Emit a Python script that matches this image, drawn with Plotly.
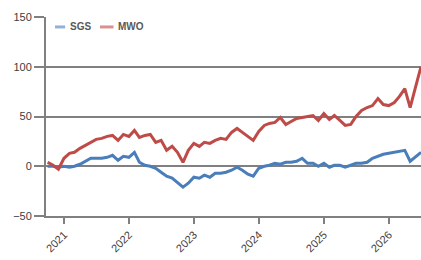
import pandas as pd
import plotly.graph_objects as go

dates = pd.date_range("2020-09-30", periods=70, freq="ME")

sgs = [0, 0, -1, 0, -1, 0, 2, 5, 8, 8,
       8, 9, 11, 6, 10, 9, 14, 4, 1, 0,
       -2, -6, -10, -12, -16, -21, -17, -11, -12, -9,
       -11, -7, -7, -6, -4, -1, -4, -8, -10, -2,
       0, 1, 3, 2, 4, 4, 5, 8, 3, 3,
       0, 3, -1, 1, 1, -1, 1, 3, 3, 4,
       8, 10, 12, 13, 14, 15, 16, 5, 10, 14]

mwo = [4, 1, -3, 8, 13, 14, 18, 21, 24, 27,
       28, 30, 31, 26, 32, 30, 36, 29, 31, 32,
       24, 26, 16, 20, 14, 4, 16, 23, 20, 24,
       23, 26, 28, 27, 34, 38, 34, 30, 26, 35,
       41, 43, 44, 49, 42, 45, 48, 49, 50, 51,
       46, 53, 47, 51, 46, 41, 42, 50, 56, 59,
       61, 68, 62, 61, 64, 70, 78, 59, 80, 100]

series_names = ["SGS", "MWO"]
series_colors = ["#4a7ebb", "#be4b48"]

year_ticks = ["2021-01-01", "2022-01-01", "2023-01-01", "2024-01-01", "2025-01-01", "2026-01-01"]
year_labels = ["2021", "2022", "2023", "2024", "2025", "2026"]

fig = go.Figure()
for name, vals, col in zip(series_names, [sgs, mwo], series_colors):
    fig.add_trace(go.Scatter(x=dates, y=vals, name=name, mode="lines",
                             line=dict(color=col, width=3), showlegend=False))

# compact legend drawn like the original (short swatches)
leg_x = [(0.024, 0.051, 0.058), (0.144, 0.180, 0.187)]
for (x0, x1, xt), name, col in zip(leg_x, series_names, series_colors):
    fig.add_shape(type="line", xref="paper", yref="paper", x0=x0, x1=x1, y0=0.95, y1=0.95,
                  line=dict(color=col, width=3), opacity=0.6)
    fig.add_annotation(xref="paper", yref="paper", x=xt, y=0.95, text="<b>%s</b>" % name,
                       showarrow=False, xanchor="left", yanchor="middle",
                       font=dict(size=10, color="#595959"))

fig.update_layout(
    width=421, height=260,
    margin=dict(l=46, r=0, t=17, b=44, autoexpand=False),
    paper_bgcolor="white", plot_bgcolor="white",
    font=dict(family="Liberation Sans, Arial, sans-serif", size=11, color="#404040"),
    showlegend=False,
)
fig.update_xaxes(
    range=["2020-09-21", "2026-06-30"], automargin=False,
    tickvals=year_ticks, ticktext=year_labels, tickangle=-45,
    ticks="outside", ticklen=6, tickcolor="#808080", tickwidth=2,
    showline=True, linecolor="#808080", linewidth=2,
    showgrid=False, zeroline=False,
)
fig.update_yaxes(
    range=[-50, 150], tickvals=[-50, 0, 50, 100, 150], automargin=False,
    ticks="outside", ticklen=10, tickcolor="#808080", tickwidth=2,
    showline=True, linecolor="#808080", linewidth=2,
    showgrid=True, gridcolor="#808080", gridwidth=2, zeroline=False,
)

fig.write_html("out.html", config={"displayModeBar": False, "staticPlot": True},
               post_script="document.body.style.margin='0';document.body.style.overflow='hidden';")
